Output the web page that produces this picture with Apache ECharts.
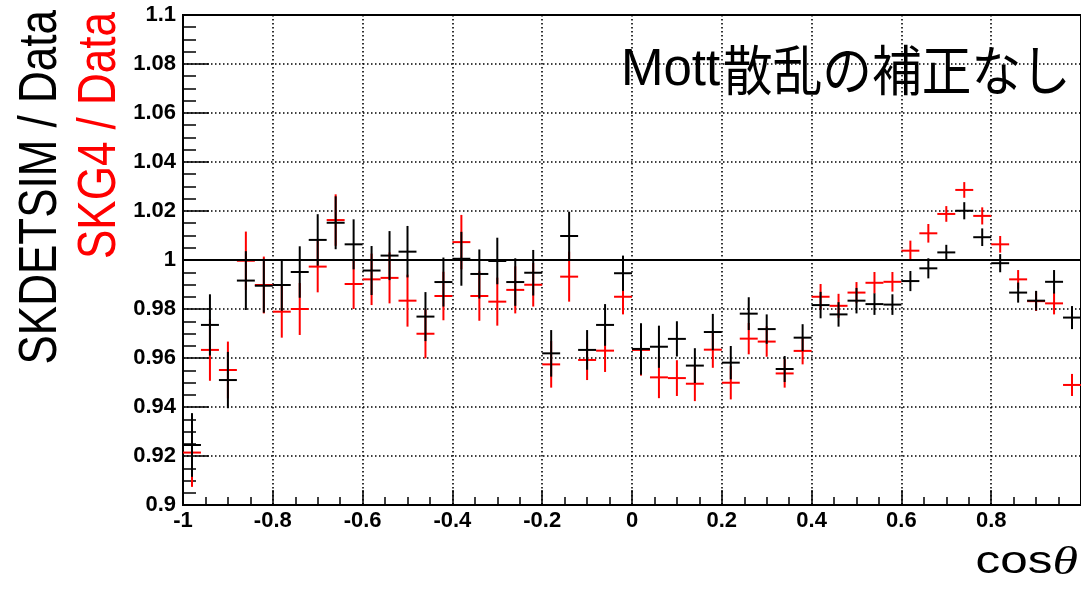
<!DOCTYPE html>
<html><head><meta charset="utf-8">
<script src="https://cdn.jsdelivr.net/npm/echarts@6/dist/echarts.min.js"></script>
<style>html,body{margin:0;padding:0;background:#fff}#c{width:1081px;height:589px}</style>
</head><body><div id="c"></div>
<script>
// cos(theta) bin centres (bin width 0.04)
const binCenters = [-0.98,-0.94,-0.90,-0.86,-0.82,-0.78,-0.74,-0.70,-0.66,-0.62,
  -0.58,-0.54,-0.50,-0.46,-0.42,-0.38,-0.34,-0.30,-0.26,-0.22,
  -0.18,-0.14,-0.10,-0.06,-0.02,0.02,0.06,0.10,0.14,0.18,
  0.22,0.26,0.30,0.34,0.38,0.42,0.46,0.50,0.54,0.58,
  0.62,0.66,0.70,0.74,0.78,0.82,0.86,0.90,0.94,0.98];
// SKDETSIM / Data (black)
const skdetsim = [0.9245,0.9735,0.9510,0.9916,0.9895,0.9898,0.9951,1.0082,1.0152,1.0064,
  0.9957,1.0018,1.0034,0.9769,0.9910,1.0005,0.9943,0.9996,0.9910,0.9948,
  0.9619,1.0098,0.9633,0.9735,0.9946,0.9637,0.9646,0.9678,0.9569,0.9706,
  0.9581,0.9781,0.9718,0.9555,0.9683,0.9816,0.9778,0.9834,0.9820,0.9818,
  0.9914,0.9966,1.0031,1.0201,1.0093,0.9987,0.9867,0.9834,0.9911,0.9765];
const skdetsimErr = [0.0130,0.0125,0.0115,0.0120,0.0110,0.0105,0.0105,0.0105,0.0108,0.0102,
  0.0100,0.0100,0.0105,0.0100,0.0100,0.0110,0.0100,0.0095,0.0097,0.0093,
  0.0095,0.0099,0.0081,0.0085,0.0072,0.0105,0.0086,0.0072,0.0071,0.0074,
  0.0068,0.0067,0.0060,0.0053,0.0055,0.0054,0.0050,0.0052,0.0044,0.0042,
  0.0041,0.0041,0.0031,0.0035,0.0036,0.0037,0.0041,0.0040,0.0048,0.0047];
// SKG4 / Data (red)
const skg4 = [0.9214,0.9633,0.9551,0.9997,0.9898,0.9789,0.9800,0.9973,1.0163,0.9902,
  0.9921,0.9927,0.9834,0.9699,0.9853,1.0073,0.9853,0.9830,0.9878,0.9899,
  0.9574,0.9932,0.9592,0.9630,0.9850,0.9633,0.9521,0.9518,0.9495,0.9634,
  0.9499,0.9679,0.9667,0.9537,0.9629,0.9850,0.9813,0.9867,0.9907,0.9911,
  1.0038,1.0109,1.0188,1.0286,1.0180,1.0064,0.9921,0.9832,0.9823,0.9490];
const skg4Err = [0.0140,0.0126,0.0116,0.0119,0.0116,0.0106,0.0106,0.0105,0.0105,0.0102,
  0.0105,0.0104,0.0106,0.0100,0.0099,0.0111,0.0101,0.0098,0.0096,0.0089,
  0.0095,0.0102,0.0082,0.0087,0.0072,0.0105,0.0085,0.0073,0.0071,0.0074,
  0.0068,0.0064,0.0062,0.0058,0.0055,0.0052,0.0049,0.0043,0.0044,0.0040,
  0.0041,0.0038,0.0032,0.0032,0.0035,0.0034,0.0038,0.0040,0.0045,0.0045];

const binHalfWidth = 0.02;
const annotation = ['Mott', '散乱の補正なし'];
const yTitleBlack = 'SKDETSIM / Data';
const yTitleRed = 'SKG4 / Data';

function makeData(vals, errs) {
  return binCenters.map((x, i) => [x, vals[i], errs[i]]);
}
function errRender(color) {
  return function (params, api) {
    const x = api.value(0), y = api.value(1), e = api.value(2);
    const c = api.coord([x, y]);
    const t = api.coord([x, y + e]);
    const b = api.coord([x, y - e]);
    const l = api.coord([x - binHalfWidth, y]);
    const r = api.coord([x + binHalfWidth, y]);
    const style = { stroke: color, lineWidth: 2 };
    return { type: 'group', children: [
      { type: 'line', shape: { x1: c[0], y1: t[1], x2: c[0], y2: b[1] }, style },
      { type: 'line', shape: { x1: l[0], y1: c[1], x2: r[0], y2: c[1] }, style }
    ] };
  };
}
const fmt = v => String(parseFloat(v.toFixed(2)));
const labelFont = { color: '#000', fontFamily: 'Liberation Sans', fontWeight: 'bold', fontSize: 22 };
const dotted = { color: '#000', width: 1.6, type: [1.5, 2.5] };

const chart = echarts.init(document.getElementById('c'), null, { renderer: 'canvas' });
chart.setOption({
  animation: false,
  backgroundColor: '#fff',
  grid: { left: 183, top: 15, width: 902, height: 490, show: true, borderColor: '#000', borderWidth: 2, backgroundColor: 'transparent' },
  xAxis: {
    type: 'value', min: -1, max: 1, interval: 0.2,
    axisLine: { show: true, onZero: false, lineStyle: { color: '#000', width: 2 } },
    axisTick: { show: true, inside: true, length: 15, lineStyle: { color: '#000', width: 1.5 } },
    minorTick: { show: true, splitNumber: 4, length: 8, lineStyle: { color: '#000', width: 1.5 } },
    splitLine: { show: true, lineStyle: dotted },
    axisLabel: Object.assign({ margin: 5, formatter: fmt, showMaxLabel: false }, labelFont)
  },
  yAxis: {
    type: 'value', min: 0.9, max: 1.1, interval: 0.02,
    axisLine: { show: true, onZero: false, lineStyle: { color: '#000', width: 2 } },
    axisTick: { show: true, inside: true, length: 26, lineStyle: { color: '#000', width: 1.5 } },
    minorTick: { show: true, splitNumber: 4, length: 13, lineStyle: { color: '#000', width: 1.5 } },
    splitLine: { show: true, lineStyle: dotted },
    axisLabel: Object.assign({ margin: 7, formatter: fmt }, labelFont)
  },
  series: [
    { name: 'SKG4 / Data', type: 'custom', renderItem: errRender('#ff0000'), data: makeData(skg4, skg4Err), z: 3,
      markLine: { silent: true, symbol: 'none', label: { show: false }, lineStyle: { color: '#000', width: 2, type: 'solid' }, data: [{ yAxis: 1 }] } },
    { name: 'SKDETSIM / Data', type: 'custom', renderItem: errRender('#000000'), data: makeData(skdetsim, skdetsimErr), z: 4 }
  ],
  graphic: [
    { type: 'text', x: 621, y: 71, style: { text: annotation[0], fontFamily: 'Liberation Sans', fontSize: 51, fill: '#000', align: 'left', verticalAlign: 'middle' } },
    { type: 'text', x: 723, y: 70, scaleX: 0.92, style: { text: annotation[1], fontFamily: 'Noto Sans CJK JP', fontSize: 54, fill: '#000', align: 'left', verticalAlign: 'middle' } },
    { type: 'text', x: 41, y: 10, rotation: Math.PI / 2, scaleY: 1.22, style: { text: yTitleBlack, fontFamily: 'Liberation Sans', fontSize: 44, fill: '#000', align: 'right', verticalAlign: 'middle' } },
    { type: 'text', x: 100, y: 12, rotation: Math.PI / 2, scaleY: 1.22, style: { text: yTitleRed, fontFamily: 'Liberation Sans', fontSize: 44, fill: '#ff0000', align: 'right', verticalAlign: 'middle' } },
    { type: 'text', x: 1078, y: 563, scaleX: 1.3, style: { text: '{a|cos}{b|θ}', align: 'right', verticalAlign: 'middle',
      rich: { a: { fontFamily: 'Liberation Sans', fontSize: 38, fill: '#000' }, b: { fontFamily: 'Liberation Serif', fontStyle: 'italic', fontSize: 40, fill: '#000' } } } }
  ]
});
</script></body></html>
